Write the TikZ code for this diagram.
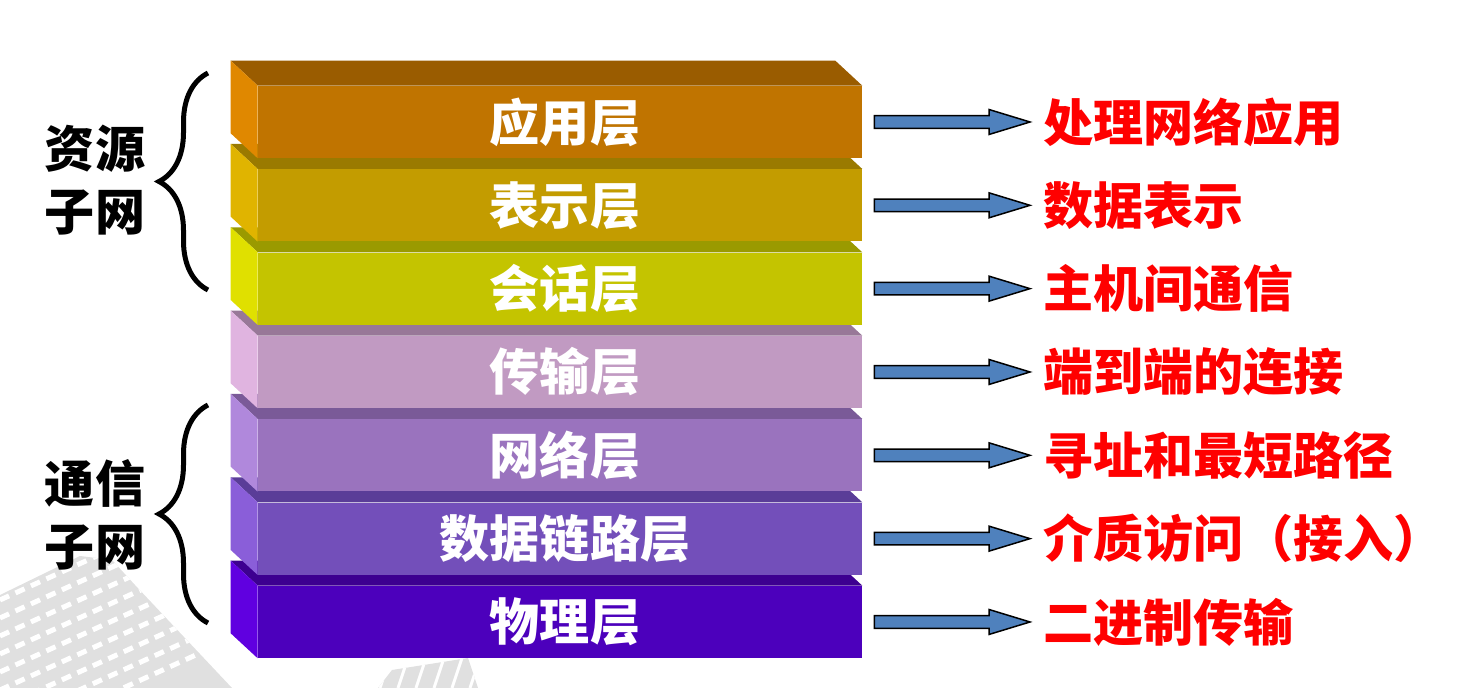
\documentclass[tikz,border=0pt]{standalone}
\usepackage{fontspec}
\setmainfont{Noto Sans CJK SC}[BoldFont={Noto Sans CJK SC Black}]
\usepackage{xcolor}
\usetikzlibrary{calc,decorations.pathreplacing}

\definecolor{f0}{RGB}{192,116,0}
\definecolor{t0}{RGB}{154,92,0}
\definecolor{l0}{RGB}{224,136,0}
\definecolor{f1}{RGB}{195,156,0}
\definecolor{t1}{RGB}{154,122,0}
\definecolor{l1}{RGB}{224,180,0}
\definecolor{f2}{RGB}{196,196,0}
\definecolor{t2}{RGB}{154,154,0}
\definecolor{l2}{RGB}{224,224,0}
\definecolor{f3}{RGB}{193,154,194}
\definecolor{t3}{RGB}{152,120,152}
\definecolor{l3}{RGB}{224,180,224}
\definecolor{f4}{RGB}{154,115,190}
\definecolor{t4}{RGB}{122,90,152}
\definecolor{l4}{RGB}{176,136,220}
\definecolor{f5}{RGB}{115,79,186}
\definecolor{t5}{RGB}{90,61,152}
\definecolor{l5}{RGB}{138,94,217}
\definecolor{f6}{RGB}{76,0,188}
\definecolor{t6}{RGB}{61,0,144}
\definecolor{l6}{RGB}{96,0,224}
\definecolor{arrowblue}{RGB}{79,129,189}
\definecolor{bldg}{RGB}{224,224,224}

\begin{document}
\begin{tikzpicture}[x=0.02cm,y=-0.02cm,
  slab/.style={minimum width=12.08cm,minimum height=1.44cm,inner sep=0,text=white,
    font=\fontsize{28.5}{34}\selectfont\bfseries},
  desc/.style={anchor=west,inner sep=0,text=red,font=\fontsize{28.5}{34}\selectfont\bfseries},
  group/.style={align=center,inner sep=0,font=\fontsize{28.5}{35.5}\selectfont\bfseries},
  curly/.style={decorate,decoration={brace,amplitude=0.98cm},line width=0.1cm},
  blockarrow/.style={fill=arrowblue,draw=black,line width=0.03cm}]
  \useasboundingbox (0,0) rectangle (1472,688);

  \begin{scope}
    \clip (0,595) -- (80,556) -- (112,560) -- (135,585) -- (232,688) -- (0,688) -- cycle;
    \fill[bldg] (0,540) rectangle (240,688);
    \foreach \k in {0,...,8}
      \draw[white,line width=0.1cm,dash pattern=on 0.2cm off 0.14cm] (0,600+\k*18) -- ++(220,-100);
  \end{scope}
  \begin{scope}
    \clip (378,688) -- (392,670) -- (468,658) -- (478,688) -- cycle;
    \fill[bldg] (370,650) rectangle (480,688);
    \foreach \k in {0,...,5}
      \draw[white,line width=0.06cm] (380+\k*18,688) -- ++(10,-30);
  \end{scope}

  \foreach \i/\lay/\txt in {6/物理层/二进制传输,5/数据链路层/介质访问（接入）,
      4/网络层/寻址和最短路径,3/传输层/端到端的连接,2/会话层/主机间通信,
      1/表示层/数据表示,0/应用层/处理网络应用} {
    \node[slab,fill=f\i] (s\i) at (560,122+83.33*\i) {\hspace*{0.2cm}\lay};
    \fill[t\i] (s\i.north west) -- (s\i.north east) -- ++(-27,-25)
      -- ($(s\i.north west)+(-27,-25)$) -- cycle;
    \fill[l\i] (s\i.north west) -- ++(-27,-25) -- ($(s\i.south west)+(-27,-25)$)
      -- (s\i.south west) -- cycle;
    \node[desc] (d\i) at (1043,122+83.33*\i) {\txt};
    \draw[blockarrow] ($(s\i.east)+(12,-6.3)$) -- ($(d\i.west)+(-54,-6.3)$)
      -- ($(d\i.west)+(-54,-12.5)$) -- ($(d\i.west)+(-13,0)$)
      -- ($(d\i.west)+(-54,12.5)$) -- ($(d\i.west)+(-54,6.3)$)
      -- ($(s\i.east)+(12,6.3)$) -- cycle;
  }

  \coordinate (b1) at (208,73);
  \coordinate (b2) at (208,290);
  \coordinate (b3) at (208,405);
  \coordinate (b4) at (208,623);
  \draw[curly] (b2) -- (b1);
  \draw[curly] (b4) -- (b3);
  \node[group] (g1) at (95,180) {资源\\子网};
  \node[group] (g2) at (95,515) {通信\\子网};
\end{tikzpicture}
\end{document}
